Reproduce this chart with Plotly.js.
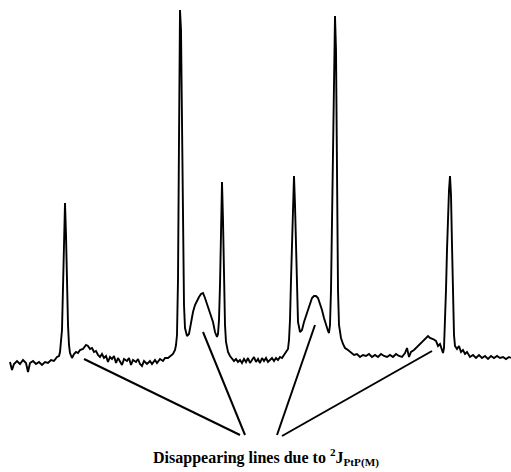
<!DOCTYPE html>
<html>
<head>
<meta charset="utf-8">
<script src="https://cdn.plot.ly/plotly-3.0.1.min.js"></script>
<style>html,body{margin:0;padding:0;background:#fff;}#chart{width:511px;height:472px;}</style>
</head>
<body>
<div id="chart"></div>
<script>
// Spectrum: chemical-shift position (arbitrary units, left to right) and intensity
const shift = [10,12,14,17,20,23,26,28,30,33,36,39,42,45,48,51,54,57,59,60,62,63,64,65,66,67,68,69,70,72,74,76,78,80,83,86,88,90,92,94,96,98,100,102,104,106,108,110,112,114,116,118,120,122,124,127,129,131,133,136,138,140,142,144,147,150,152,155,157,160,163,165,168,171,173,175,176,177,178,179,180,181,182,183,184,185,187,189,191,193,195,197,199,201,203,205,207,209,211,213,215,217,218,219,220,221,222,223,224,225,226,228,230,232,234,236,238,240,242,244,246,248,250,252,254,256,258,260,262,264,266,268,270,272,274,276,278,280,282,284,286,288,289,290,291,292,293,294,295,296,297,298,300,302,304,306,308,310,312,314,316,318,320,322,324,326,328,329,330,331,332,333,334,335,336,337,338,339,341,343,345,348,351,354,357,360,363,366,369,372,375,378,381,384,387,390,393,396,399,402,405,407,409,411,414,417,420,423,426,428,430,433,436,438,440,442,443,444,445,446,447,448,449,450,451,452,453,454,455,457,459,461,463,465,467,470,473,476,479,482,485,488,491,494,497,500,503,506,509,511];
const intensity = [110,102,108,111,108,112,109,100,109,111,108,110,107,110,109,112,111,115,116,120,142,182,232,269,237,187,147,127,119,114,118,120,119,122,123,127,126,123,124,120,121,117,115,118,114,116,110,115,113,116,109,114,111,107,113,111,114,107,112,110,113,108,106,111,108,111,108,112,109,113,111,114,114,116,118,122,127,137,192,332,462,442,342,222,167,144,136,138,150,160,167,172,175,178,179,174,168,162,156,150,140,135,138,152,187,242,290,252,187,147,130,120,116,114,111,113,110,112,109,113,110,114,109,112,115,110,113,109,114,111,114,110,112,114,111,114,112,115,114,117,119,123,132,152,192,237,277,296,267,217,177,150,140,142,150,156,164,170,174,176,176,174,169,162,154,146,141,139,147,182,252,352,432,456,422,292,182,147,134,128,124,122,119,117,118,115,117,116,118,115,117,115,118,116,115,117,115,118,116,115,119,124,115,120,122,125,128,131,134,136,134,133,131,126,128,122,119,124,147,182,222,257,282,296,277,227,172,137,126,123,126,120,122,118,120,115,117,114,117,114,116,113,116,114,116,114,115,113,115,114];

// Pointer lines to the disappearing lines (from spectrum feature to label)
const pointerFromX = [84, 203, 315, 432];
const pointerFromY = [113, 140, 147, 121];
const pointerToX = [240, 245, 277, 282];
const pointerToY = [37, 37, 37, 36];

const labelText = "<b>Disappearing lines due to <sup>2</sup>J<sub>PtP(M)</sub></b>";

const shapes = pointerFromX.map((x0, i) => ({
  type: 'line', xref: 'x', yref: 'y',
  x0: x0, y0: pointerFromY[i], x1: pointerToX[i], y1: pointerToY[i],
  line: {color: '#000', width: 2}
}));

const trace = {
  x: shift, y: intensity, type: 'scatter', mode: 'lines',
  line: {color: '#000', width: 1.9, shape: 'linear'},
  hoverinfo: 'skip'
};

const layout = {
  width: 511, height: 472,
  margin: {l: 0, r: 0, t: 0, b: 0},
  paper_bgcolor: '#fff', plot_bgcolor: '#fff',
  showlegend: false,
  xaxis: {range: [0, 511], visible: false, fixedrange: true},
  yaxis: {range: [0, 472], visible: false, fixedrange: true},
  shapes: shapes,
  annotations: [{
    x: 151, y: 15, xref: 'x', yref: 'y', xanchor: 'left', yanchor: 'middle',
    text: labelText, showarrow: false,
    font: {family: 'Liberation Serif, Times New Roman, serif', size: 16, color: '#000'}
  }]
};

Plotly.newPlot('chart', [trace], layout, {displayModeBar: false, staticPlot: true});
</script>
</body>
</html>
